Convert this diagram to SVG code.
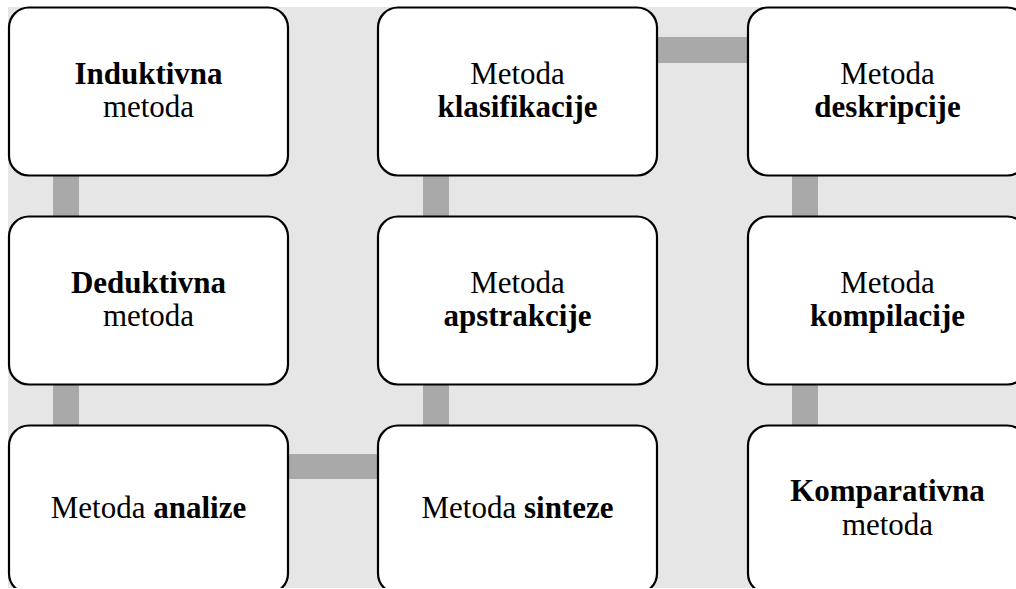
<svg xmlns="http://www.w3.org/2000/svg" width="1016" height="589" viewBox="0 0 1016 589">
<defs>
<style>
.box{fill:#ffffff;stroke:#000000;stroke-width:2.2}
.con{fill:#a9a9a9}
text{font-family:"Liberation Serif","Times New Roman",serif;font-size:31px;fill:#000000;text-anchor:middle}
.b{font-weight:bold}
</style>
<clipPath id="clip"><rect x="0" y="0" width="1016" height="588"/></clipPath>
</defs>
<rect x="0" y="0" width="1016" height="589" fill="#ffffff"/>
<g clip-path="url(#clip)">
<rect x="8" y="7" width="1008" height="581" fill="#e6e6e6"/>
<g id="connectors">
<rect class="con" x="53" y="170" width="26" height="52"/>
<rect class="con" x="53" y="379" width="26" height="52"/>
<rect class="con" x="423" y="170" width="26" height="52"/>
<rect class="con" x="423" y="379" width="26" height="52"/>
<rect class="con" x="792" y="170" width="26" height="52"/>
<rect class="con" x="792" y="379" width="26" height="52"/>
<rect class="con" x="283" y="454" width="100" height="25"/>
<rect class="con" x="652" y="37" width="101" height="26"/>
</g>
<g id="n1"><rect class="box" x="9" y="7.5" width="279" height="168" rx="20"/>
<text x="148.5" y="84"><tspan class="b">Induktivna</tspan></text><text x="148.5" y="117">metoda</text></g>
<g id="n2"><rect class="box" x="378" y="7.5" width="279" height="168" rx="20"/>
<text x="517.5" y="84">Metoda</text><text x="517.5" y="117" class="b">klasifikacije</text></g>
<g id="n3"><rect class="box" x="748" y="7.5" width="279" height="168" rx="20"/>
<text x="887.5" y="84">Metoda</text><text x="887.5" y="117" class="b">deskripcije</text></g>
<g id="n4"><rect class="box" x="9" y="216.5" width="279" height="168" rx="20"/>
<text x="148.5" y="293" class="b">Deduktivna</text><text x="148.5" y="326">metoda</text></g>
<g id="n5"><rect class="box" x="378" y="216.5" width="279" height="168" rx="20"/>
<text x="517.5" y="293">Metoda</text><text x="517.5" y="326" class="b">apstrakcije</text></g>
<g id="n6"><rect class="box" x="748" y="216.5" width="279" height="168" rx="20"/>
<text x="887.5" y="293">Metoda</text><text x="887.5" y="326" class="b">kompilacije</text></g>
<g id="n7"><rect class="box" x="9" y="425.5" width="279" height="168" rx="20"/>
<text x="148.5" y="518">Metoda <tspan class="b">analize</tspan></text></g>
<g id="n8"><rect class="box" x="378" y="425.5" width="279" height="168" rx="20"/>
<text x="517.5" y="518">Metoda <tspan class="b">sinteze</tspan></text></g>
<g id="n9"><rect class="box" x="748" y="425.5" width="279" height="168" rx="20"/>
<text x="887.5" y="501" class="b">Komparativna</text><text x="887.5" y="535">metoda</text></g>
</g>
</svg>
